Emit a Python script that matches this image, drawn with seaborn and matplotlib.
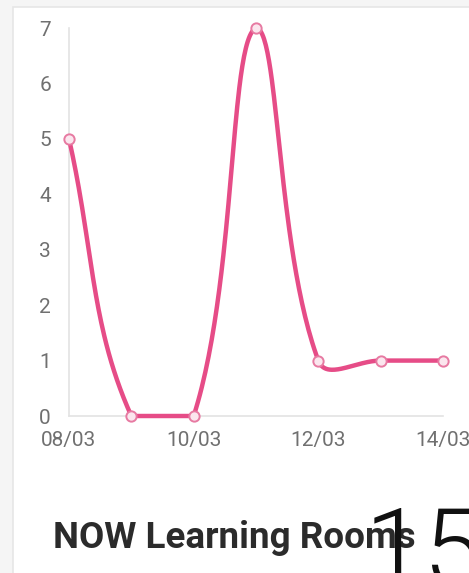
import numpy as np
import pandas as pd
import matplotlib
matplotlib.use("Agg")
import matplotlib.pyplot as plt
from matplotlib.patches import Rectangle
import seaborn as sns

# Daily counts
dates = ["08/03", "09/03", "10/03", "11/03", "12/03", "13/03", "14/03"]
counts = [5, 0, 0, 7, 1, 1, 1]
shown_dates = ["08/03", "10/03", "12/03", "14/03"]
y_ticks = [0, 1, 2, 3, 4, 5, 6, 7]
title = "NOW Learning Rooms"
total = "15"

LINE = "#E64C87"
GRID = "#E3E3E3"
TICK = "#707070"

sns.set_theme(style="white")
plt.rcParams["font.family"] = ["Roboto", "DejaVu Sans"]

W, H = 469, 573
fig = plt.figure(figsize=(W / 100, H / 100), dpi=100)
fig.patch.set_facecolor("#F5F5F5")

# white card behind everything
card = Rectangle((13 / W, -0.05), 1.1, 1.05 - 7 / H, transform=fig.transFigure,
                 facecolor="white", edgecolor="#E6E6E6", lw=1.2, zorder=-10)
fig.patches.append(card)

left, right, top, bottom = 69, 443, 28, 416
ax = fig.add_axes([left / W, (H - bottom) / H, (right - left) / W, (bottom - top) / H])
ax.set_facecolor("none")
ax.set_zorder(1)

xs = np.arange(len(dates), dtype=float)
ys = np.array(counts, dtype=float)
ax.set_xlim(0, len(dates) - 1)
ax.set_ylim(0, 7)
fig.canvas.draw()

# cardinal spline (tension 0.4) with control points kept inside the plot area
pts = ax.transData.transform(np.column_stack([xs, ys]))
bb = ax.bbox
tension = 0.4
n = len(pts)
cp_prev = np.zeros_like(pts)
cp_next = np.zeros_like(pts)
for i in range(n):
    p0 = pts[i - 1] if i > 0 else pts[i]
    p1 = pts[i]
    p2 = pts[i + 1] if i < n - 1 else pts[i]
    d01 = np.hypot(*(p1 - p0))
    d12 = np.hypot(*(p2 - p1))
    tot = d01 + d12
    s01 = d01 / tot if tot else 0
    s12 = d12 / tot if tot else 0
    cp_prev[i] = p1 - tension * s01 * (p2 - p0)
    cp_next[i] = p1 + tension * s12 * (p2 - p0)
for c in (cp_prev, cp_next):
    c[:, 0] = np.clip(c[:, 0], bb.x0, bb.x1)
    c[:, 1] = np.clip(c[:, 1], bb.y0, bb.y1)

curve = []
t = np.linspace(0, 1, 60)[:, None]
for i in range(n - 1):
    a, b, c, d = pts[i], cp_next[i], cp_prev[i + 1], pts[i + 1]
    seg = (1 - t) ** 3 * a + 3 * (1 - t) ** 2 * t * b + 3 * (1 - t) * t ** 2 * c + t ** 3 * d
    curve.append(seg if i == 0 else seg[1:])
curve = ax.transData.inverted().transform(np.vstack(curve))
line_df = pd.DataFrame({"x": curve[:, 0], "y": curve[:, 1]})

sns.lineplot(data=line_df, x="x", y="y", sort=False, estimator=None, ax=ax,
             color=LINE, lw=3.2, solid_capstyle="round", zorder=3, clip_on=False)
pt_df = pd.DataFrame({"x": xs, "y": ys})
sns.scatterplot(data=pt_df, x="x", y="y", ax=ax, s=55, facecolor="#FBE6EE",
                edgecolor="#E77AA2", linewidth=1.4, zorder=4, clip_on=False)

ax.set_xlabel("")
ax.set_ylabel("")
ax.set_xticks([dates.index(d) for d in shown_dates])
ax.set_xticklabels(shown_dates)
ax.set_yticks(y_ticks)
ax.tick_params(axis="both", length=0, labelsize=15, colors=TICK)
ax.tick_params(axis="y", pad=13)
ax.tick_params(axis="x", pad=11)
for s in ("top", "right"):
    ax.spines[s].set_visible(False)
for s in ("left", "bottom"):
    ax.spines[s].set_color(GRID)
    ax.spines[s].set_linewidth(1.2)
ax.grid(False)

fig.text(53 / W, (H - 548) / H, title, fontsize=26.5, fontweight="bold",
         color="#2B2B2B", va="baseline", ha="left")
fig.text(365 / W, (H - 573 - 12) / H, total, fontsize=77, fontweight=300,
         color="#111111", va="baseline", ha="left")

fig.savefig("out.png", dpi=100, facecolor=fig.get_facecolor())
